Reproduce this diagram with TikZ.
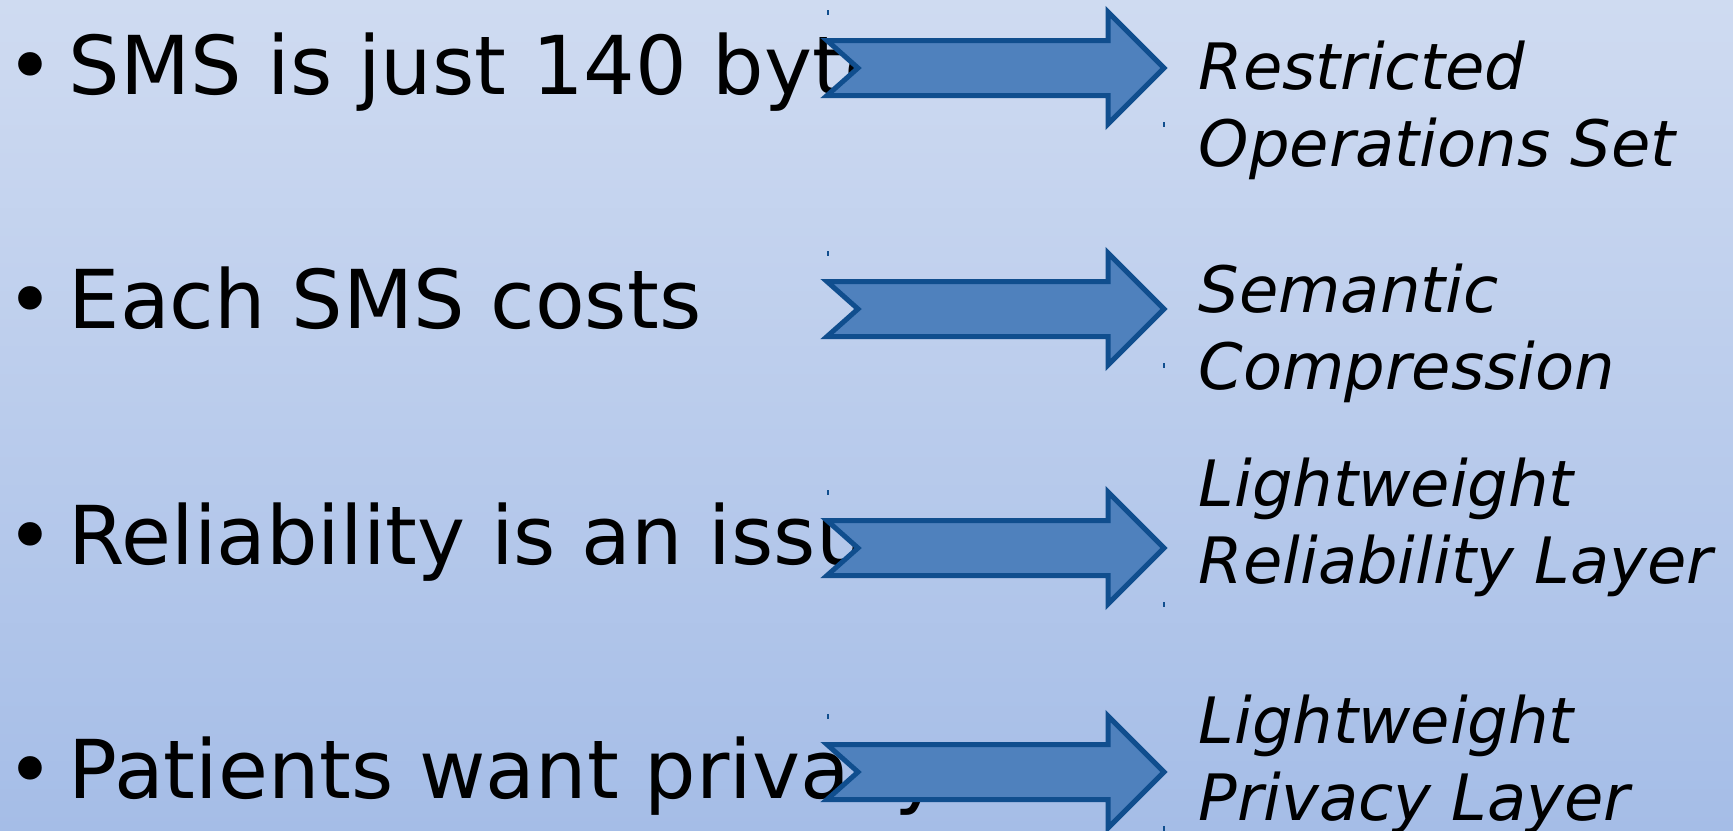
\documentclass[tikz,border=0pt]{standalone}
\usepackage{fontspec}
\setmainfont{DejaVu Sans}
\definecolor{bgtop}{RGB}{207,219,241}
\definecolor{bgbottom}{RGB}{165,189,231}
\definecolor{arrowfill}{RGB}{79,129,189}
\definecolor{arrowline}{RGB}{16,78,142}

\begin{document}
\begin{tikzpicture}[x=0.1mm, y=-0.1mm,
    item/.style={anchor=base west, inner sep=0pt, font=\fontsize{23.1}{28}\selectfont},
    result/.style={anchor=base west, inner sep=0pt, align=left, font=\fontsize{18.2}{21.9}\selectfont\itshape},
    fatarrow/.style={fill=arrowfill, draw=arrowline, line width=0.5mm},
    tick/.style={draw=arrowline, line width=0.15mm}]
   % Background
    \shade[top color=bgtop, bottom color=bgbottom] (0,0) rectangle (1733,830);
    \useasboundingbox (0,0) rectangle (1733,830);

    % Bullet points (left)
    \foreach \y/\txt [count=\i] in {94/SMS is just 140 bytes, 328/Each SMS costs,
        564/Reliability is an issue, 798/Patients want privacy} {
      \node[item] (b\i) at (6,\y) {•};
      \node[item] (i\i) at (68,\y) {\txt};
    }

    % Notched arrows with their small corner marks
    \foreach \c [count=\i] in {68,309,548,772} {
      \coordinate (a\i) at (1108,\c);
      \draw[fatarrow] (827,\c-27.5) -- (1108,\c-27.5) -- (1108,\c-56) -- (1164,\c)
        -- (1108,\c+56) -- (1108,\c+27.5) -- (827,\c+27.5) -- (858,\c) -- cycle;
      \draw[tick] (828,\c-58) -- (828,\c-53);
      \draw[tick] (1164,\c+54) -- (1164,\c+59);
    }

    % Answers (right), placed at the baseline of their last line
    \node[result] (l1) at (1198,166) {Restricted\\Operations Set};
    \node[result] (l2) at (1198,389) {Semantic\\Compression};
    \node[result] (l3) at (1198,583) {Lightweight\\Reliability Layer};
    \node[result] (l4) at (1198,820) {Lightweight\\Privacy Layer};

  \end{tikzpicture}
\end{document}
